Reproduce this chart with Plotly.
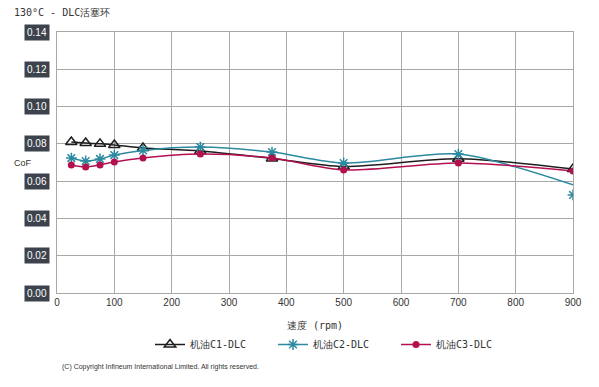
import plotly.graph_objects as go

speed = [25, 50, 75, 100, 150, 250, 375, 500, 700, 900]
c1 = [0.0810, 0.0805, 0.0800, 0.0794, 0.0778, 0.0762, 0.0722, 0.0678, 0.0720, 0.0665]
c2 = [0.0724, 0.0708, 0.0719, 0.0740, 0.0765, 0.0783, 0.0756, 0.0697, 0.0745, 0.0526]
c2_line = [0.0724, 0.0708, 0.0719, 0.0740, 0.0765, 0.0783, 0.0756, 0.0697, 0.0745, 0.0580]
c3 = [0.0687, 0.0676, 0.0687, 0.0703, 0.0724, 0.0745, 0.0724, 0.0660, 0.0697, 0.0655]
names = ["机油C1-DLC", "机油C2-DLC", "机油C3-DLC"]
y_ticks = [0.00, 0.02, 0.04, 0.06, 0.08, 0.10, 0.12, 0.14]
x_ticks = [0, 100, 200, 300, 400, 500, 600, 700, 800, 900]

FONT = "DejaVu Sans Mono"
OFF = 8  # page body margin
PW, PH = 516, 261  # plot area size in px
L0, T0 = 57, 32    # plot area top-left in the screenshot
fig = go.Figure()

fig.add_trace(go.Scatter(x=speed, y=c1, mode="lines+markers", name=names[0],
                         line=dict(color="#1e1e1e", width=1.5, shape="spline", smoothing=0.8),
                         marker=dict(symbol="triangle-up-open", size=10, color="#1e1e1e", line=dict(width=1.5))))
fig.add_trace(go.Scatter(x=speed, y=c2_line, mode="lines", showlegend=False, hoverinfo="skip",
                         line=dict(color="#2b8aa0", width=1.5, shape="spline", smoothing=0.8)))
fig.add_trace(go.Scatter(x=speed, y=c2, mode="markers", name=names[1], showlegend=False,
                         marker=dict(symbol="asterisk-open", size=9, color="#2b8aa0", line=dict(width=1.5, color="#2b8aa0"))))
fig.add_trace(go.Scatter(x=[None], y=[None], mode="lines+markers", name=names[1],
                         line=dict(color="#2b8aa0", width=1.5),
                         marker=dict(symbol="asterisk-open", size=9, color="#2b8aa0", line=dict(width=1.5, color="#2b8aa0"))))
fig.add_trace(go.Scatter(x=speed, y=c3, mode="lines+markers", name=names[2],
                         line=dict(color="#b3104f", width=1.5, shape="spline", smoothing=0.8),
                         marker=dict(symbol="circle", size=7, color="#b3104f")))

anns = []
for t in y_ticks:
    anns.append(dict(x=-0.014, y=t, xref="paper", yref="y", text=f"{t:.2f}",
                     showarrow=False, xanchor="right", yanchor="middle",
                     font=dict(family="Liberation Sans", size=10, color="white"),
                     bgcolor="#3d434d", borderpad=2))
anns.append(dict(x=(12 - L0) / PW, y=1 + (T0 - 12) / PH, xref="paper", yref="paper",
                 text="130°C - DLC活塞环", showarrow=False, xanchor="left", yanchor="middle",
                 font=dict(family=FONT, size=10, color="#333")))
anns.append(dict(x=(12 - L0) / PW, y=(293 - 163) / PH, xref="paper", yref="paper", text="CoF",
                 showarrow=False, xanchor="left", yanchor="middle",
                 font=dict(family="Liberation Sans", size=9, color="#333")))
anns.append(dict(x=(60 - L0) / PW, y=-(367 - 293) / PH, xref="paper", yref="paper",
                 text="(C) Copyright Infineum International Limited. All rights reserved.",
                 showarrow=False, xanchor="left", yanchor="middle",
                 font=dict(family="Liberation Sans", size=7, color="#333")))

fig.update_layout(
    width=599 - OFF, height=387 - OFF,
    margin=dict(l=L0 - OFF, r=26, t=T0 - OFF, b=94, autoexpand=False),
    paper_bgcolor="white", plot_bgcolor="white",
    font=dict(family=FONT, size=10, color="#333"),
    showlegend=True,
    annotations=anns,
    legend=dict(orientation="h", x=(150 - L0) / PW, y=-(330 - 293) / PH, xanchor="left", yanchor="top",
                entrywidth=78, entrywidthmode="pixels",
                font=dict(family=FONT, size=10, color="#333"),
                itemwidth=30, tracegroupgap=0),
    xaxis=dict(range=[0, 900], tickvals=x_ticks, showgrid=True, gridcolor="#a8a8a8", gridwidth=1,
               zeroline=False, showline=True, linecolor="#a8a8a8", mirror=True,
               tickfont=dict(family="Liberation Sans", size=10, color="#333"),
               title=dict(text="速度 (rpm)", font=dict(family=FONT, size=10, color="#333"), standoff=14)),
    yaxis=dict(range=[0, 0.14], tickvals=y_ticks, showticklabels=False, showgrid=True,
               gridcolor="#a8a8a8", gridwidth=1, zeroline=False, showline=True,
               linecolor="#a8a8a8", mirror=True),
)

fig.write_html("out.html")
